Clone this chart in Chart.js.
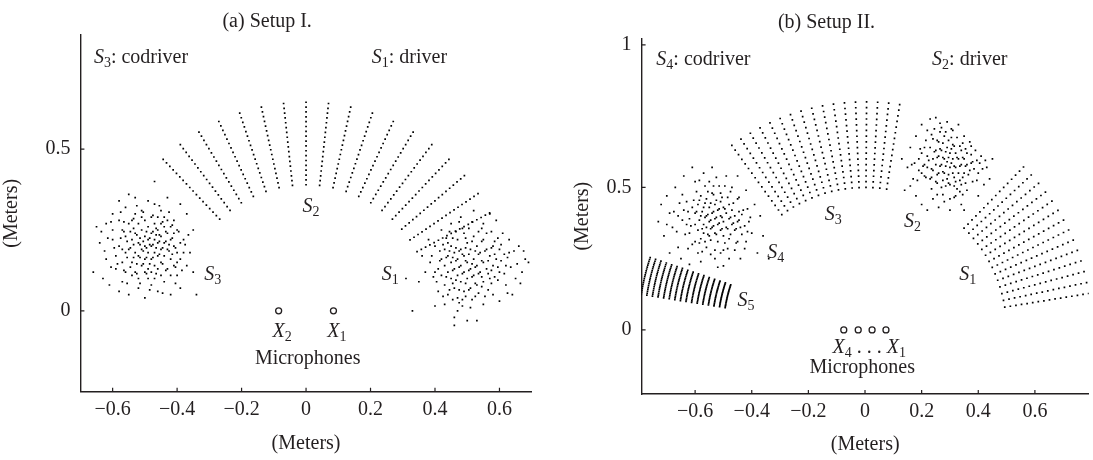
<!DOCTYPE html>
<html>
<head>
<meta charset="utf-8">
<script src="https://cdn.jsdelivr.net/npm/chart.js@4.4.1/dist/chart.umd.min.js"></script>
<style>
  body { margin: 0; background: #fff; }
  #wrap { position: relative; width: 1093px; height: 460px; overflow: hidden; }
  #wrap canvas { position: absolute; top: 0; }
</style>
</head>
<body>
<div id="wrap">
  <canvas id="setupA" width="536" height="460" style="left:0"></canvas>
  <canvas id="setupB" width="533" height="460" style="left:560px"></canvas>
</div>
<script>
// ---------------------------------------------------------------------------
// Data (meters)
// ---------------------------------------------------------------------------

// (a) Setup I.
const xTicksA = [-0.6, -0.4, -0.2, 0, 0.2, 0.4, 0.6];
const yTicksA = [0, 0.5];
// S2: radial lines of candidate positions (angle in degrees, radius in meters)
const s2AnglesA = [133.4, 127.2, 121, 114.8, 108.6, 102.4, 96.2, 90, 83.8, 77.6,
                   71.4, 65.2, 59, 52.8, 46.6, 40.4, 34.2, 28];
const s2RadiiA = [0.39, 0.405, 0.42, 0.435, 0.45, 0.465, 0.48, 0.495, 0.51, 0.525,
                  0.54, 0.555, 0.57, 0.585, 0.6, 0.615, 0.63, 0.645];
const s3CloudA = [
  [-0.66,0.12],[-0.65,0.26],[-0.64,0.21],[-0.63,0.10],[-0.62,0.27],[-0.62,0.16],[-0.61,0.08],[-0.60,0.30],
  [-0.60,0.22],[-0.59,0.13],[-0.58,0.34],[-0.58,0.06],[-0.57,0.25],[-0.57,0.09],[-0.56,0.32],[-0.56,0.18],
  [-0.55,0.36],[-0.55,0.05],[-0.54,0.28],[-0.54,0.11],[-0.53,0.35],[-0.52,0.07],[-0.51,0.31],[-0.50,0.04],
  [-0.49,0.34],[-0.48,0.08],[-0.47,0.40],[-0.47,0.33],[-0.46,0.06],[-0.45,0.31],[-0.44,0.09],[-0.43,0.35],
  [-0.42,0.05],[-0.41,0.28],[-0.40,0.11],[-0.40,0.25],[-0.39,0.07],[-0.38,0.22],[-0.37,0.14],[-0.36,0.18],
  [-0.35,0.12],[-0.34,0.05],[-0.35,0.25],[-0.37,0.30],[-0.39,0.33],
  [-0.53,0.24],[-0.52,0.21],[-0.52,0.17],[-0.51,0.25],[-0.51,0.19],[-0.51,0.14],[-0.50,0.23],[-0.50,0.20],
  [-0.50,0.16],[-0.49,0.26],[-0.49,0.22],[-0.49,0.18],[-0.49,0.13],[-0.48,0.24],[-0.48,0.20],[-0.48,0.16],
  [-0.47,0.27],[-0.47,0.22],[-0.47,0.18],[-0.47,0.14],[-0.46,0.25],[-0.46,0.21],[-0.46,0.17],[-0.45,0.23],
  [-0.45,0.19],[-0.45,0.15],[-0.44,0.26],[-0.44,0.21],[-0.44,0.17],[-0.43,0.24],[-0.43,0.19],[-0.43,0.13],
  [-0.42,0.22],[-0.42,0.16],[-0.41,0.20],[-0.41,0.14],
  [-0.58,0.20],[-0.57,0.15],[-0.56,0.23],[-0.56,0.12],[-0.55,0.19],[-0.55,0.27],[-0.54,0.15],[-0.54,0.22],
  [-0.53,0.30],[-0.53,0.12],[-0.53,0.18],[-0.52,0.27],[-0.52,0.10],[-0.51,0.29],[-0.50,0.12],[-0.50,0.28],
  [-0.49,0.10],[-0.48,0.29],[-0.48,0.12],[-0.47,0.10],[-0.46,0.29],[-0.46,0.13],[-0.45,0.27],[-0.45,0.11],
  [-0.44,0.29],[-0.43,0.28],[-0.42,0.26],[-0.42,0.11],[-0.41,0.24],[-0.40,0.18],[-0.40,0.15],[-0.39,0.21],
  [-0.39,0.16],[-0.38,0.18],[-0.59,0.17],[-0.60,0.25],[-0.58,0.28],[-0.57,0.19],[-0.555,0.165],[-0.545,0.245],
  [-0.535,0.205],[-0.525,0.145],[-0.515,0.225],[-0.505,0.185],[-0.495,0.245],[-0.485,0.145],[-0.475,0.205],
  [-0.465,0.235],[-0.455,0.175],[-0.445,0.195],[-0.435,0.215],[-0.425,0.185],[-0.415,0.175],[-0.485,0.205],
  [-0.465,0.195],[-0.505,0.215],
  [-0.545,0.195],[-0.535,0.165],[-0.525,0.235],[-0.515,0.205],[-0.505,0.145],[-0.495,0.195],[-0.485,0.225],
  [-0.475,0.165],[-0.465,0.255],[-0.455,0.215],[-0.445,0.145],[-0.435,0.245],[-0.425,0.205],[-0.415,0.225],
  [-0.405,0.195],[-0.455,0.235],[-0.475,0.245],[-0.495,0.165],[-0.515,0.165],[-0.535,0.255],[-0.555,0.215],
  [-0.565,0.245],[-0.575,0.225],[-0.585,0.145],[-0.595,0.195],[-0.605,0.135],[-0.615,0.225],[-0.545,0.135],
  [-0.525,0.115],[-0.495,0.115],[-0.465,0.115],[-0.435,0.125],[-0.405,0.135],[-0.395,0.245],[-0.415,0.265],
  [-0.445,0.275],[-0.475,0.295],[-0.505,0.305],[-0.535,0.285],[-0.565,0.275],[-0.575,0.305],[-0.525,0.325],
  [-0.455,0.325],[-0.425,0.305],[-0.385,0.125],[-0.375,0.205],[-0.365,0.235],[-0.625,0.185],[-0.635,0.245],
  [-0.605,0.275],[-0.565,0.125],[-0.555,0.085],[-0.515,0.085],[-0.485,0.065],[-0.445,0.055],[-0.405,0.085]
];
const s1CloudA = [
  [0.33,0.00],[0.40,0.015],[0.46,-0.045],[0.46,-0.02],[0.50,-0.03],[0.53,-0.03],[0.31,0.10],[0.35,0.09],
  [0.36,0.17],[0.38,0.22],[0.69,0.15],[0.68,0.16],[0.67,0.12],[0.66,0.20],[0.65,0.10],[0.64,0.05],
  [0.63,0.18],[0.62,0.08],[0.61,0.24],[0.60,0.03],[0.59,0.28],[0.57,0.30],[0.55,0.27],[0.52,0.31],
  [0.48,0.29],[0.45,0.27],[0.42,0.25],[0.40,0.12],[0.39,0.17],[0.41,0.06],[0.43,0.02],[0.47,0.00],
  [0.51,0.01],[0.55,0.02],[0.58,0.05],[0.60,0.12],[0.62,0.14],[0.63,0.22],[0.585,0.215],[0.56,0.24],
  [0.44,0.21],[0.40,0.20],[0.37,0.12],
  [0.42,0.16],[0.42,0.11],[0.43,0.19],[0.43,0.14],[0.43,0.08],[0.44,0.17],[0.44,0.12],[0.44,0.05],
  [0.45,0.20],[0.45,0.15],[0.45,0.10],[0.46,0.18],[0.46,0.13],[0.46,0.07],[0.47,0.22],[0.47,0.16],
  [0.47,0.11],[0.47,0.04],[0.48,0.19],[0.48,0.14],[0.48,0.09],[0.49,0.24],[0.49,0.17],[0.49,0.12],
  [0.49,0.06],[0.50,0.21],[0.50,0.15],[0.50,0.10],[0.51,0.19],[0.51,0.13],[0.51,0.07],[0.52,0.23],
  [0.52,0.16],[0.52,0.11],[0.53,0.20],[0.53,0.14],[0.53,0.08],[0.54,0.18],[0.54,0.12],[0.55,0.22],
  [0.55,0.15],[0.55,0.09],[0.56,0.19],[0.56,0.13],[0.57,0.17],[0.57,0.10],[0.58,0.14],[0.58,0.20],
  [0.59,0.16],[0.60,0.19],[0.41,0.13],[0.405,0.09],[0.435,0.225],[0.465,0.245],[0.505,0.255],[0.535,0.245],
  [0.565,0.065],[0.525,0.045],[0.485,0.035],[0.455,0.085],[0.475,0.135],[0.495,0.155],[0.515,0.145],
  [0.485,0.175],[0.465,0.155],[0.505,0.125],[0.525,0.185],[0.545,0.155],[0.455,0.125],[0.435,0.105],
  [0.575,0.125],[0.595,0.095],[0.615,0.175],[0.545,0.215],[0.495,0.085],[0.475,0.065],[0.435,0.165],
  [0.415,0.185],[0.385,0.15],
  [0.445,0.185],[0.455,0.165],[0.465,0.195],[0.475,0.185],[0.485,0.115],[0.495,0.195],[0.505,0.175],
  [0.515,0.105],[0.525,0.135],[0.535,0.175],[0.545,0.105],[0.555,0.185],[0.565,0.155],[0.575,0.195],
  [0.585,0.175],[0.595,0.135],[0.605,0.155],[0.615,0.115],[0.625,0.165],[0.635,0.135],[0.645,0.185],
  [0.655,0.145],[0.465,0.095],[0.475,0.025],[0.495,0.045],[0.515,0.035],[0.535,0.055],[0.555,0.045],
  [0.575,0.085],[0.545,0.075],[0.505,0.065],[0.445,0.065],[0.425,0.045],[0.415,0.155],[0.395,0.105],
  [0.425,0.205],[0.455,0.225],[0.485,0.255],[0.515,0.275],[0.545,0.255],[0.575,0.245],[0.595,0.225],
  [0.605,0.205],[0.515,0.215],[0.495,0.225],[0.475,0.275],[0.445,0.245],[0.525,0.085],[0.485,0.015],
  [0.455,0.035],[0.535,0.115],[0.565,0.115],[0.585,0.105],[0.625,0.055],[0.665,0.085],[0.675,0.185]
];
const micsA = [[-0.085, 0], [0.085, 0]];

// (b) Setup II.
const xTicksB = [-0.6, -0.4, -0.2, 0, 0.2, 0.4, 0.6];
const yTicksB = [0, 0.5, 1];
const gridRadiiB = [0.5, 0.52, 0.54, 0.56, 0.58, 0.6, 0.62, 0.64, 0.66, 0.68, 0.7, 0.72, 0.74, 0.76, 0.78, 0.8];
const s3AnglesB = [126, 123.2, 120.4, 117.6, 114.8, 112, 109.2, 106.4, 103.6, 100.8, 98, 95.2, 92.4,
                   89.6, 86.8, 84, 81.2];
const s1AnglesB = [45.6, 42.8, 40, 37.2, 34.4, 31.6, 28.8, 26, 23.2, 20.4, 17.6, 14.8, 12, 9.2];
const s5AnglesB = [161.5, 162, 162.5, 163, 163.5, 164, 164.5, 165, 165.5, 166, 166.5, 167, 167.5,
                   168, 168.5, 169, 169.5, 170, 170.5, 171];
const s4CloudB = [
  [-0.73,0.38],[-0.72,0.44],[-0.71,0.33],[-0.70,0.47],[-0.69,0.27],[-0.69,0.41],[-0.68,0.36],[-0.67,0.50],
  [-0.66,0.29],[-0.65,0.25],[-0.64,0.54],[-0.63,0.45],[-0.62,0.23],[-0.61,0.57],[-0.60,0.52],[-0.59,0.27],
  [-0.58,0.24],[-0.57,0.55],[-0.56,0.29],[-0.55,0.52],[-0.54,0.57],[-0.53,0.25],[-0.52,0.22],[-0.51,0.48],
  [-0.50,0.225],[-0.50,0.28],[-0.49,0.54],[-0.48,0.25],[-0.47,0.50],[-0.46,0.28],[-0.45,0.46],[-0.44,0.25],
  [-0.43,0.42],[-0.42,0.31],[-0.41,0.38],[-0.40,0.34],[-0.39,0.44],[-0.38,0.27],[-0.37,0.40],[-0.36,0.33],
  [-0.34,0.25],[-0.42,0.49],[-0.45,0.54],[-0.60,0.31],[-0.66,0.40],[-0.70,0.37],
  [-0.60,0.41],[-0.60,0.37],[-0.59,0.44],[-0.59,0.35],[-0.58,0.40],[-0.58,0.32],[-0.58,0.47],[-0.57,0.43],
  [-0.57,0.37],[-0.57,0.34],[-0.56,0.46],[-0.56,0.40],[-0.56,0.36],[-0.55,0.43],[-0.55,0.38],[-0.55,0.33],
  [-0.54,0.48],[-0.54,0.41],[-0.54,0.36],[-0.53,0.44],[-0.53,0.39],[-0.53,0.34],[-0.52,0.42],[-0.52,0.37],
  [-0.52,0.31],[-0.51,0.45],[-0.51,0.40],[-0.51,0.35],[-0.50,0.43],[-0.50,0.38],[-0.50,0.33],[-0.49,0.41],
  [-0.49,0.36],[-0.48,0.44],[-0.48,0.39],[-0.48,0.32],[-0.47,0.42],[-0.47,0.37],[-0.46,0.40],[-0.46,0.35],
  [-0.45,0.38],[-0.45,0.31],[-0.44,0.36],[-0.62,0.39],[-0.62,0.34],[-0.61,0.43],[-0.61,0.30],[-0.63,0.37],
  [-0.64,0.42],[-0.565,0.395],[-0.545,0.385],[-0.535,0.415],[-0.525,0.395],[-0.515,0.375],[-0.545,0.355],
  [-0.525,0.455],[-0.505,0.465],[-0.485,0.465],[-0.565,0.505],[-0.535,0.505],[-0.495,0.305],[-0.465,0.445],
  [-0.445,0.415],[-0.435,0.335],[-0.585,0.385],[-0.575,0.415],[-0.565,0.31],[-0.53,0.28],[-0.51,0.27],
  [-0.595,0.415],[-0.585,0.455],[-0.575,0.355],[-0.565,0.445],[-0.555,0.405],[-0.545,0.445],[-0.535,0.365],
  [-0.525,0.335],[-0.515,0.425],[-0.505,0.395],[-0.495,0.425],[-0.485,0.355],[-0.475,0.395],[-0.465,0.375],
  [-0.455,0.355],[-0.445,0.385],[-0.435,0.405],[-0.425,0.365],[-0.415,0.345],[-0.605,0.455],[-0.615,0.365],
  [-0.625,0.415],[-0.635,0.335],[-0.645,0.385],[-0.655,0.445],[-0.665,0.345],[-0.675,0.415],[-0.595,0.485],
  [-0.555,0.485],[-0.515,0.505],[-0.475,0.485],[-0.445,0.465],[-0.415,0.425],[-0.405,0.395],[-0.585,0.305],
  [-0.545,0.315],[-0.505,0.355],[-0.475,0.335],[-0.455,0.305],[-0.425,0.285],[-0.575,0.275],[-0.545,0.265],
  [-0.485,0.285],[-0.625,0.285],[-0.645,0.475],[-0.585,0.525],[-0.525,0.535],[-0.495,0.505],[-0.535,0.475],
  [-0.555,0.335]
];
const s2CloudB = [
  [0.13,0.60],[0.14,0.49],[0.15,0.57],[0.16,0.64],[0.17,0.53],[0.18,0.47],[0.18,0.68],[0.19,0.60],
  [0.20,0.72],[0.20,0.44],[0.21,0.54],[0.22,0.42],[0.22,0.70],[0.23,0.74],[0.24,0.46],[0.25,0.745],
  [0.26,0.43],[0.27,0.71],[0.28,0.45],[0.29,0.73],[0.30,0.42],[0.31,0.70],[0.32,0.47],[0.33,0.72],
  [0.34,0.44],[0.35,0.68],[0.36,0.49],[0.37,0.66],[0.38,0.52],[0.39,0.63],[0.40,0.55],[0.41,0.61],
  [0.42,0.51],[0.43,0.57],[0.45,0.60],[0.44,0.53],[0.40,0.47],[0.35,0.42],[0.30,0.46],[0.165,0.58],
  [0.16,0.505],
  [0.22,0.61],[0.22,0.57],[0.23,0.64],[0.23,0.53],[0.24,0.60],[0.24,0.56],[0.24,0.67],[0.25,0.63],
  [0.25,0.58],[0.25,0.52],[0.26,0.66],[0.26,0.61],[0.26,0.55],[0.27,0.63],[0.27,0.58],[0.27,0.50],
  [0.28,0.68],[0.28,0.60],[0.28,0.55],[0.29,0.64],[0.29,0.59],[0.29,0.53],[0.30,0.62],[0.30,0.57],
  [0.30,0.51],[0.31,0.65],[0.31,0.60],[0.31,0.55],[0.32,0.62],[0.32,0.57],[0.32,0.52],[0.33,0.60],
  [0.33,0.55],[0.34,0.63],[0.34,0.58],[0.34,0.51],[0.35,0.60],[0.35,0.55],[0.36,0.58],[0.36,0.62],
  [0.37,0.56],[0.38,0.59],[0.21,0.64],[0.21,0.58],[0.20,0.62],[0.20,0.55],[0.19,0.56],[0.285,0.575],
  [0.305,0.585],[0.295,0.545],[0.275,0.605],[0.315,0.535],[0.265,0.575],[0.255,0.545],[0.335,0.485],
  [0.325,0.495],[0.345,0.535],[0.285,0.505],[0.265,0.695],[0.305,0.675],[0.325,0.675],[0.345,0.655],
  [0.235,0.495],[0.245,0.705],[0.375,0.615],
  [0.225,0.595],[0.235,0.565],[0.245,0.625],[0.255,0.605],[0.265,0.635],[0.275,0.555],[0.285,0.625],
  [0.295,0.605],[0.305,0.635],[0.315,0.575],[0.325,0.605],[0.335,0.575],[0.345,0.605],[0.355,0.575],
  [0.365,0.545],[0.375,0.585],[0.385,0.565],[0.395,0.595],[0.405,0.585],[0.415,0.565],[0.235,0.535],
  [0.255,0.515],[0.275,0.525],[0.295,0.515],[0.315,0.505],[0.335,0.525],[0.355,0.515],[0.215,0.535],
  [0.205,0.575],[0.195,0.635],[0.215,0.665],[0.235,0.685],[0.255,0.665],[0.275,0.655],[0.295,0.665],
  [0.315,0.645],[0.335,0.645],[0.355,0.635],[0.375,0.645],[0.285,0.695],[0.305,0.705],[0.265,0.725],
  [0.185,0.525],[0.175,0.585],[0.275,0.475],[0.255,0.475],[0.315,0.465],[0.345,0.475],[0.395,0.525],
  [0.425,0.595]
];
const micsB = [[-0.075, 0], [-0.024, 0], [0.025, 0], [0.074, 0]];

// ---------------------------------------------------------------------------
// Annotations (data coordinates). Segments: i = italic, sub = subscript, n = normal
// ---------------------------------------------------------------------------
const labelsA = [
  { x: -0.658, y: 0.765, segs: [['S', 'i'], ['3', 'sub'], [': codriver', 'n']] },
  { x: 0.204, y: 0.765, segs: [['S', 'i'], ['1', 'sub'], [': driver', 'n']] },
  { x: -0.011, y: 0.307, segs: [['S', 'i'], ['2', 'sub']] },
  { x: -0.316, y: 0.095, segs: [['S', 'i'], ['3', 'sub']] },
  { x: 0.235, y: 0.095, segs: [['S', 'i'], ['1', 'sub']] },
  { x: -0.104, y: -0.082, segs: [['X', 'i'], ['2', 'sub']] },
  { x: 0.066, y: -0.082, segs: [['X', 'i'], ['1', 'sub']] },
  { x: 0.005, y: -0.163, align: 'center', segs: [['Microphones', 'n']] }
];
const labelsB = [
  { x: -0.737, y: 0.93, segs: [['S', 'i'], ['4', 'sub'], [': codriver', 'n']] },
  { x: 0.237, y: 0.93, segs: [['S', 'i'], ['2', 'sub'], [': driver', 'n']] },
  { x: -0.142, y: 0.384, segs: [['S', 'i'], ['3', 'sub']] },
  { x: 0.138, y: 0.362, segs: [['S', 'i'], ['2', 'sub']] },
  { x: -0.345, y: 0.254, segs: [['S', 'i'], ['4', 'sub']] },
  { x: -0.45, y: 0.084, segs: [['S', 'i'], ['5', 'sub']] },
  { x: 0.333, y: 0.177, segs: [['S', 'i'], ['1', 'sub']] },
  { x: -0.115, y: -0.082, segs: [['X', 'i'], ['4', 'sub'], [' . . . ', 'n'], ['X', 'i'], ['1', 'sub']] },
  { x: -0.01, y: -0.152, align: 'center', segs: [['Microphones', 'n']] }
];

// ---------------------------------------------------------------------------
// Helpers
// ---------------------------------------------------------------------------
const FONT = '"Liberation Serif", "Times New Roman", serif';
const INK = '#231f20';
const TEXT_SIZE = 20;

function polarGrid(angles, radii) {
  const pts = [];
  angles.forEach(a => {
    const t = a * Math.PI / 180;
    radii.forEach(r => pts.push({ x: r * Math.cos(t), y: r * Math.sin(t) }));
  });
  return pts;
}

const toPoints = arr => arr.map(([x, y]) => ({ x, y }));

function dotSet(data) {
  return {
    data,
    pointStyle: 'rect',
    pointRadius: 1.2,
    pointHoverRadius: 1.2,
    pointBackgroundColor: '#000',
    pointBorderWidth: 0
  };
}

function micSet(data) {
  return {
    data: toPoints(data),
    pointRadius: 3,
    pointHoverRadius: 3,
    pointBackgroundColor: '#fff',
    pointBorderColor: INK,
    pointBorderWidth: 1.3
  };
}

const formatTick = v => (v < 0 ? '\u2212' : '') + Math.abs(v);

// Tick marks drawn inward from the axis lines
const innerTicks = {
  id: 'innerTicks',
  afterDraw(chart) {
    const { ctx, scales: { x, y } } = chart;
    ctx.save();
    ctx.strokeStyle = INK;
    ctx.lineWidth = 1.2;
    ctx.beginPath();
    x.ticks.forEach(t => {
      const px = x.getPixelForValue(t.value);
      ctx.moveTo(px, x.top);
      ctx.lineTo(px, x.top - 4);
    });
    y.ticks.forEach(t => {
      const py = y.getPixelForValue(t.value);
      ctx.moveTo(y.right, py);
      ctx.lineTo(y.right + 4, py);
    });
    ctx.stroke();
    ctx.restore();
  }
};

function segFont(kind) {
  if (kind === 'i') return `italic ${TEXT_SIZE}px ${FONT}`;
  if (kind === 'sub') return `14px ${FONT}`;
  return `${TEXT_SIZE}px ${FONT}`;
}

function labelPlugin(items) {
  return {
    id: 'richLabels',
    afterDatasetsDraw(chart) {
      const { ctx, scales: { x, y } } = chart;
      ctx.save();
      ctx.fillStyle = INK;
      ctx.textBaseline = 'alphabetic';
      ctx.textAlign = 'left';
      items.forEach(item => {
        const segs = item.segs.map(([text, kind]) => {
          ctx.font = segFont(kind);
          return { text, kind, w: ctx.measureText(text).width };
        });
        const total = segs.reduce((s, g) => s + g.w, 0);
        let px = x.getPixelForValue(item.x);
        const py = y.getPixelForValue(item.y);
        if (item.align === 'center') px -= total / 2;
        segs.forEach(g => {
          ctx.font = segFont(g.kind);
          ctx.fillText(g.text, px, py + (g.kind === 'sub' ? 4 : 0));
          px += g.w;
        });
      });
      ctx.restore();
    }
  };
}

function makeChart(id, cfg) {
  const font = { family: FONT, size: TEXT_SIZE, weight: 'normal' };
  return new Chart(document.getElementById(id), {
    type: 'scatter',
    data: { datasets: cfg.datasets },
    options: {
      responsive: false,
      animation: false,
      events: [],
      layout: { padding: { left: 0, right: cfg.padRight, top: 0, bottom: 0 } },
      plugins: {
        legend: { display: false },
        tooltip: { enabled: false },
        title: {
          display: true,
          text: cfg.title,
          color: INK,
          font,
          padding: cfg.titlePad
        }
      },
      scales: {
        x: {
          type: 'linear',
          min: cfg.xMin,
          max: cfg.xMax,
          afterBuildTicks: s => { s.ticks = cfg.xTicks.map(v => ({ value: v })); },
          afterFit: s => { s.height = cfg.xAxisHeight; },
          grid: { display: false, drawTicks: false },
          border: { display: true, color: INK, width: 1.4 },
          ticks: { color: INK, font, padding: 6, maxRotation: 0, autoSkip: false, callback: formatTick },
          title: { display: true, text: '(Meters)', color: INK, font, padding: { top: 0, bottom: cfg.xTitlePad } }
        },
        y: {
          type: 'linear',
          min: cfg.yMin,
          max: cfg.yMax,
          afterBuildTicks: s => { s.ticks = cfg.yTicks.map(v => ({ value: v })); },
          afterFit: s => { s.width = cfg.yAxisWidth; },
          grid: { display: false, drawTicks: false },
          border: { display: true, color: INK, width: 1.4 },
          ticks: { color: INK, font, padding: 10, autoSkip: false, callback: formatTick },
          title: { display: true, text: '(Meters)', color: INK, font, padding: { top: cfg.yTitlePad, bottom: 0 } }
        }
      }
    },
    plugins: [innerTicks, labelPlugin(cfg.labels)]
  });
}

// ---------------------------------------------------------------------------
// Charts
// ---------------------------------------------------------------------------
makeChart('setupA', {
  title: '(a) Setup I.',
  titlePad: { top: 10, bottom: 1 },
  padRight: 1.7,
  xMin: -0.7, xMax: 0.7, yMin: -0.25, yMax: 0.853,
  xTicks: xTicksA, yTicks: yTicksA,
  xAxisHeight: 68.3, yAxisWidth: 80.4,
  xTitlePad: 4.7, yTitlePad: 0,
  labels: labelsA,
  datasets: [
    dotSet(polarGrid(s2AnglesA, s2RadiiA)),
    dotSet(toPoints(s3CloudA)),
    dotSet(toPoints(s1CloudA)),
    micSet(micsA)
  ]
});

makeChart('setupB', {
  title: '(b) Setup II.',
  titlePad: { top: 11, bottom: 3.3 },
  padRight: 0,
  xMin: -0.789, xMax: 0.79, yMin: -0.2246, yMax: 1.023,
  xTicks: xTicksB, yTicks: yTicksB,
  xAxisHeight: 66, yAxisWidth: 81.6,
  xTitlePad: 3, yTitlePad: 11,
  labels: labelsB,
  datasets: [
    dotSet(polarGrid(s3AnglesB, gridRadiiB)),
    dotSet(polarGrid(s1AnglesB, gridRadiiB)),
    dotSet(polarGrid(s5AnglesB, gridRadiiB)),
    dotSet(toPoints(s4CloudB)),
    dotSet(toPoints(s2CloudB)),
    micSet(micsB)
  ]
});
</script>
</body>
</html>
